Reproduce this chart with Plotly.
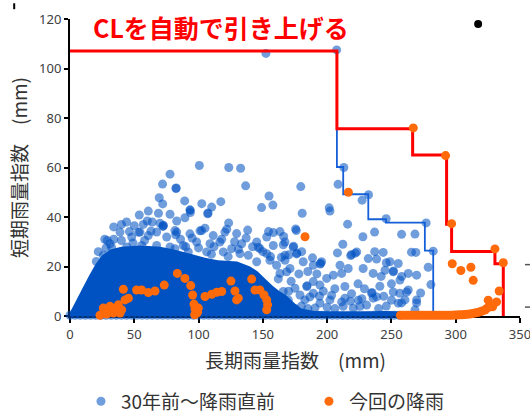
import plotly.graph_objects as go

# ---------------- data ----------------
# dense core of the "30年前～降雨直前" cloud (outline of the solid region)
core_x = [0, 0, 5, 10, 15, 20, 25, 32, 40, 55, 70, 80, 95, 105, 115, 130, 140, 146, 152,
          158, 163, 168, 172, 176, 180, 190, 205, 230, 245, 258, 258]
core_y = [0, 1.5, 6.5, 11.5, 16.5, 21, 24.5, 27, 28, 28.5, 28, 27, 25, 23.5, 22.5, 22, 20,
          18, 15, 12, 10, 8.5, 6.5, 4.5, 3, 2, 1.8, 1.8, 2, 1.8, 0]

# individual points of the "30年前～降雨直前" series
blue_x = [207.4, 152.4, 213, 100.6, 123.5, 132.7, 77.8, 72, 82.4, 82.6, 136.6, 179.5, 208.5,
          154.8, 157.8, 149, 117.3, 102.5, 110.2, 89.2, 69.4, 72.1, 93.5, 93.3, 107.1, 107.4,
          60.9, 53.9, 68.8, 77.8, 60.1, 83, 72.6, 89.4, 123.4, 105, 121.9, 138.2, 158.1, 163.3,
          101.1, 129.6, 154.4, 166.2, 176, 173.6, 173.9, 176.2, 176.5, 194.6, 194.9, 232.2,
          227.2, 201.6, 202.2, 180.6, 215.9, 245.9, 277, 175.5, 236.9, 227.8, 257.9, 212.2,
          221.9, 218.3, 208, 237, 265.6, 282.5, 238.5, 246, 255.3, 164.4, 170.2, 180.2, 188.6,
          146.5, 165.9, 167.2, 189.2, 181.4, 171.1, 219, 223, 232, 251.4, 251.6, 256.6, 263.1,
          269.6, 228, 235.8, 245, 248.8, 210, 216.4, 199.6, 204.8, 211.3, 189.2, 194.4, 184.1,
          184.4, 213.8, 234.6, 234.9, 235.8, 256.6, 260.5, 263.1, 269.6, 255.3, 225.5, 213.8,
          202.2, 220.3, 212.5, 165.9, 175, 178.9, 169.8, 182.7, 189.2, 194.4, 190.5, 165.9,
          280.7, 278.6, 272.7, 261.8, 269.6, 257.9, 250.1, 251.4, 238.5, 224.2, 230.7, 211.3,
          203.5, 186.6, 268.3, 246, 240, 200, 180, 268.3, 269, 243.6, 195.7,
          38.9, 48, 54.4, 60.9, 67.4, 75.2, 81.6, 31.1, 44.1, 55.8, 67.4, 77.8, 25.9, 36.3,
          46.2, 53.3, 63, 32.3, 83, 93.3, 102.4, 111.4, 120.5, 133.5, 125.7, 116.6, 108.9,
          98.5, 88.1, 145.2, 153, 158.1, 167.2, 155.5, 160.7, 167.2, 153, 147.7, 138.7, 163.3,
          168.5, 145.2, 132.2, 119.2, 106.3, 92, 81.6, 72.2, 72.5, 82.2, 93.6, 20.5, 29,
          22, 27, 34, 40, 44, 50, 57, 64, 70, 58, 49, 40, 34, 28,
          86, 95, 112, 118, 128, 137, 142, 150, 156, 100, 90, 131, 110, 123,
          162, 172, 178, 185, 192, 197, 206, 219, 224, 229, 241, 244, 250, 258, 170, 160,
          175, 206, 218, 242, 185, 194, 227,
          0, 4, 8, 12, 16, 20, 24, 28, 32, 36, 40, 44, 48, 52, 56, 60, 64, 68, 72, 76, 80,
          84, 88, 92, 96, 100, 104, 108, 112, 116, 120, 124, 128, 132, 136, 140, 144, 148,
          152, 156, 160, 164, 168, 172, 176, 180, 184, 188, 192, 196, 200, 204, 208, 212,
          216, 220, 224, 228, 232, 236, 240, 244, 248, 252, 256]
blue_y = [107.5, 106.1, 60, 60.8, 60, 59.7, 57.3, 53.3, 51.5, 51.7, 52.6, 52.3, 53.2,
          48.5, 44.8, 43.8, 46.2, 45.4, 44, 46.5, 47.8, 45.3, 42.7, 42.9, 41.3, 41.6,
          42.4, 40.8, 41.5, 41.1, 38.4, 38.4, 36.7, 39.7, 37.6, 35.5, 35.1, 34.7, 33.7, 34.1,
          34.4, 33.3, 34.1, 32.1, 34.5, 27.8, 28.2, 25.1, 25.4, 21, 21.3, 49,
          46.8, 43.7, 42.4, 41.5, 37.1, 39.3, 37.6, 35.2, 33.9, 32, 33, 29,
          25.4, 24.4, 25.5, 26, 25.8, 26.2, 23, 21.5, 21.2, 23.7, 24.7, 26, 23.5,
          27.8, 28.8, 24.5, 20.5, 21.9, 19.2, 24.8, 25.9, 23.2, 17.9, 18.2, 14.5, 17.2,
          16.5, 19.2, 17.2, 18.5, 21.9, 20.5, 19.2, 15.2, 16.5, 17.2, 13.9, 12.5, 11.9,
          12.2, 11.9, 9.2, 9.5, 7.2, 9.2, 6.5, 10.5, 6.5, 5.2, 3.9, 7.2,
          6.5, 3.2, 3.9, 9.9, 11.2, 8.5, 6.5, 6.5, 9.2, 5.2, 3.2, 4.5,
          12.7, 19.7, 9.3, 9.7, 5.3, 5.3, 6.4, 9.7, 7.7, 6.4, 4.4, 5.7,
          8.4, 7.7, 2.5, 4, 3, 3.5, 4, 33.1, 25.7, 25.7, 21.9,
          33.9, 31.9, 33.9, 32.5, 33.9, 31.9, 34.5, 29.2, 27.9, 28.5, 28.5, 27.9, 24.5, 25.2,
          34.1, 33.8, 34.3, 27.8, 33.9, 33.2, 34.5, 32.5, 33.9, 29.2, 27.2, 29.9, 29.2,
          29.9, 28.5, 29.9, 31.9, 28.5, 29.9, 22.5, 20.5, 22.5, 25.2, 27.2, 24.5, 17.2,
          17.9, 21.9, 25.2, 25.9, 25.9, 25.9, 27.2, 36.2, 36.4, 32.8, 41.8, 22, 30.5,
          26, 31, 36, 37, 38, 36.5, 37, 38, 37.5, 30.5, 29.5, 30.5, 31, 27.5,
          31, 31.5, 28, 31, 30, 31.5, 28, 26, 24, 27.5, 28, 27, 25, 24,
          15, 14, 17, 18, 17, 10, 11, 9, 13, 11, 12, 8, 13, 16, 10, 6,
          3, 3, 6, 16, 3, 8, 7,
          0.3, 0.3, 0.3, 0.3, 0.3, 0.3, 0.3, 0.3, 0.3, 0.3, 0.3, 0.3, 0.3, 0.3, 0.3, 0.3,
          0.3, 0.3, 0.3, 0.3, 0.3, 0.3, 0.3, 0.3, 0.3, 0.3, 0.3, 0.3, 0.3, 0.3, 0.3, 0.3,
          0.3, 0.3, 0.3, 0.3, 0.3, 0.3, 0.3, 0.3, 0.3, 0.3, 0.3, 0.3, 0.3, 0.3, 0.3, 0.3,
          0.3, 0.3, 0.3, 0.3, 0.3, 0.3, 0.3, 0.3, 0.3, 0.3, 0.3, 0.3, 0.3, 0.3, 0.3, 0.3, 0.3]

# "今回の降雨" series
orange_x = [23.3, 25.9, 28.5, 31.1, 33.7, 35.5, 37.6, 38.9, 40.2, 42.8, 41.5, 45.4, 51.8, 55.7,
            60.9, 66.1, 73.3, 83.5, 89.4, 93.9, 95.4, 96.4, 97.2, 98.5, 99.8, 97, 99.2,
            105, 110.2, 114.1, 118, 125.2, 128.3, 129.6, 130.9, 141.3, 143.9, 147.7, 150.9,
            153, 153.7, 153, 182.8, 216.5, 267, 292.1, 296.8, 330.5, 337, 297.3, 304, 311.8,
            313.6, 333.8, 325.3, 331.8, 328.7, 322.7,
            257, 259, 261, 263, 265, 267, 269, 271, 273, 275, 277, 279, 281, 283, 285, 287,
            289, 291, 293, 295, 297, 299, 301, 303, 305, 307, 309, 311, 313, 315, 317, 319,
            320.5, 324, 326]
orange_y = [0.3, 3.2, 0.8, 3.9, 1.2, 2.2, 4.5, 1.2, 2.5, 6.5, 10.8, 7.2, 10.5, 10.5,
            9.5, 10.1, 12.5, 17.2, 15.2, 12.3, 8.5, 4.8, 2.9, 1.2, 3.2, 0.5, 1.5,
            7.9, 8.8, 9.6, 9.9, 14.1, 10.1, 6.5, 7.2, 14.9, 10.5, 10.5, 8.5,
            6.5, 4.5, 2.5, 32, 50, 76, 64.8, 37.3, 27.1, 21.5, 21.1, 18.4, 19.7,
            14.4, 10.1, 6.4, 5.7, 3.7, 2.4,
            0.3, 0.3, 0.3, 0.3, 0.3, 0.3, 0.3, 0.3, 0.3, 0.3, 0.3, 0.3, 0.3, 0.3, 0.3, 0.3,
            0.3, 0.3, 0.3, 0.3, 0.3, 0.4, 0.4, 0.5, 0.5, 0.6, 0.7, 0.8, 1.0, 1.2, 1.4, 1.7,
            2.0, 3.0, 3.6]

# critical lines (step vertices, drawn horizontal-then-vertical)
cl_orig_x = [0, 207.6, 212.5, 232, 245.8, 276, 282.5]
cl_orig_y = [107.1, 60.2, 49.2, 39.1, 37.7, 26.4, 0]
cl_new_x = [0, 207.6, 266.5, 292.9, 296.8, 330.5, 337]
cl_new_y = [107.1, 75.7, 65.1, 37.1, 26.1, 21.1, 0]

x_ticks = [0, 50, 100, 150, 200, 250, 300, 350]
y_ticks = [0, 20, 40, 60, 80, 100, 120]

BLUE = "rgb(0,82,194)"
BLUE_T = "rgba(0,82,194,0.56)"
ORANGE = "#FF6A0A"
RED = "#FF0000"
CJK = "Noto Sans CJK JP"

fig = go.Figure()
fig.add_trace(go.Scatter(x=core_x, y=core_y, mode="none", fill="toself",
                         fillcolor=BLUE, showlegend=False, hoverinfo="skip"))
fig.add_trace(go.Scatter(x=blue_x, y=blue_y, mode="markers", name="30年前～降雨直前",
                         marker=dict(size=9, color=BLUE_T, line=dict(width=0)),
                         cliponaxis=False, legend="legend"))
fig.add_trace(go.Scatter(x=cl_orig_x, y=cl_orig_y, mode="lines", line_shape="hv",
                         line=dict(color="#1560D8", width=1.8), showlegend=False))
fig.add_trace(go.Scatter(x=cl_new_x, y=cl_new_y, mode="lines", line_shape="hv",
                         line=dict(color=RED, width=3), showlegend=False))
fig.add_trace(go.Scatter(x=orange_x, y=orange_y, mode="markers", name="今回の降雨",
                         marker=dict(size=9, color=ORANGE, line=dict(width=0)),
                         cliponaxis=False, legend="legend2"))

leg_common = dict(orientation="h", xanchor="left", yref="container", y=0.028,
                  yanchor="middle", font=dict(family=CJK, size=19, color="#333333"),
                  bgcolor="rgba(0,0,0,0)", borderwidth=0)

fig.update_layout(
    width=530, height=413,
    margin=dict(l=70, r=10, t=16, b=97),
    paper_bgcolor="white", plot_bgcolor="white",
    font=dict(family=CJK, color="#333333"),
    showlegend=True,
    legend=dict(x=0.0244, **leg_common),
    legend2=dict(x=0.531, **leg_common),
    xaxis=dict(range=[0, 350], tickvals=x_ticks, showgrid=False, zeroline=False,
               showline=True, linecolor="black", linewidth=2, ticks="outside", ticklen=5,
               tickcolor="black", tickwidth=2, layer="below traces",
               ticklabeloverflow="allow", automargin=False,
               tickfont=dict(family="Noto Sans", size=13, color="#404040")),
    yaxis=dict(range=[0, 120], tickvals=y_ticks, showgrid=False, zeroline=False,
               showline=True, linecolor="black", linewidth=2, ticks="outside", ticklen=4,
               tickcolor="black", tickwidth=2, layer="below traces",
               tickfont=dict(family="Noto Sans", size=13, color="#404040"),
               title=dict(text="短期雨量指数　(mm)", standoff=6,
                          font=dict(family=CJK, size=19, color="#333333"))),
)

# x-axis title placed as text below the tick labels
fig.add_annotation(xref="paper", yref="paper", x=0.5, y=-0.147, xanchor="center",
                   yanchor="middle", showarrow=False, text="長期雨量指数　(mm)",
                   font=dict(family=CJK, size=19, color="#333333"))

fig.add_annotation(xref="paper", yref="paper", x=0.047, y=0.972, xanchor="left",
                   yanchor="middle", showarrow=False,
                   text="<b>CLを自動で引き上げる</b>",
                   font=dict(family=CJK, size=25, color=RED))

# small black marks around the chart
fig.add_shape(type="circle", xref="paper", yref="paper", xsizemode="pixel",
              ysizemode="pixel", xanchor=0.907, yanchor=0.983, x0=-4, x1=4, y0=-4, y1=4,
              fillcolor="black", line=dict(width=0))
fig.add_shape(type="line", xref="paper", yref="paper", x0=-0.124, x1=-0.124,
              y0=1.053, y1=1.033, line=dict(color="black", width=2))
fig.add_shape(type="line", xref="paper", yref="paper", x0=1.011, x1=1.03,
              y0=0.173, y1=0.173, line=dict(color="#555555", width=1.5))
fig.add_shape(type="line", xref="paper", yref="paper", x0=1.011, x1=1.03,
              y0=0.03, y1=0.03, line=dict(color="#555555", width=1.5))

fig.write_html("out.html")
